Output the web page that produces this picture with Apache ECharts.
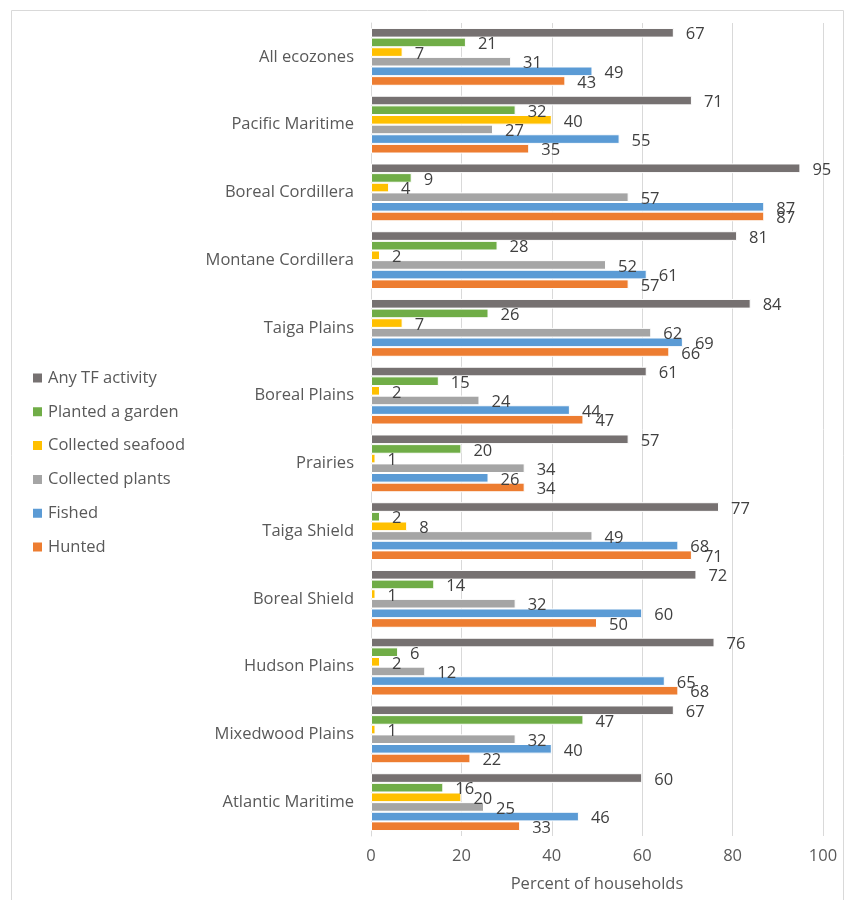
<!DOCTYPE html>
<html>
<head>
<meta charset="utf-8">
<script src="https://cdn.jsdelivr.net/npm/echarts@6/dist/echarts.min.js"></script>
<style>html,body{margin:0;padding:0;background:#fff;}#c{width:845px;height:900px;}</style>
</head>
<body>
<div id="c"></div>
<script>
const categories = ["All ecozones","Pacific Maritime","Boreal Cordillera","Montane Cordillera","Taiga Plains","Boreal Plains","Prairies","Taiga Shield","Boreal Shield","Hudson Plains","Mixedwood Plains","Atlantic Maritime"];
const seriesNames = ["Any TF activity","Planted a garden","Collected seafood","Collected plants","Fished","Hunted"];
const anyTF     = [67,71,95,81,84,61,57,77,72,76,67,60];
const garden    = [21,32,9,28,26,15,20,2,14,6,47,16];
const seafood   = [7,40,4,2,7,2,1,8,1,2,1,20];
const plants    = [31,27,57,52,62,24,34,49,32,12,32,25];
const fished    = [49,55,87,61,69,44,26,68,60,65,40,46];
const hunted    = [43,35,87,57,66,47,34,71,50,68,22,33];
const xTicks = [0,20,40,60,80,100];
const colors = ["#767171","#70AD47","#FFC000","#A5A5A5","#5B9BD5","#ED7D31"];

const FONT = "Open Sans";
const FS = 16.5;
const values = [anyTF, garden, seafood, plants, fished, hunted];
const chart = echarts.init(document.getElementById('c'));
chart.setOption({
  animation: false,
  textStyle: {fontFamily: FONT},
  graphic: [{type:'rect', shape:{x:11.5,y:10.5,width:832,height:900}, style:{fill:'none',stroke:'#d9d9d9',lineWidth:1}, silent:true}],
  legend: {
    orient: 'vertical', left: 31, top: 367, padding: 0,
    itemWidth: 11, itemHeight: 11, itemGap: 11.8,
    icon: 'rect',
    data: seriesNames,
    textStyle: {fontFamily: FONT, fontSize: FS, color: '#595959', lineHeight: 22}
  },
  grid: {left: 371, right: 22, top: 23, bottom: 64, containLabel: false},
  xAxis: {
    type: 'value', min: 0, max: 100, interval: 20,
    name: 'Percent of households', nameLocation: 'middle', nameGap: 40,
    nameTextStyle: {fontFamily: FONT, fontSize: FS, color: '#595959'},
    axisLabel: {fontFamily: FONT, fontSize: FS, color: '#595959', margin: 12, formatter: v => xTicks.includes(v) ? String(v) : ''},
    splitLine: {lineStyle: {color: '#d9d9d9'}},
    axisLine: {show: false}, axisTick: {show: false}
  },
  yAxis: {
    type: 'category', data: categories, inverse: true,
    axisLabel: {fontFamily: FONT, fontSize: FS, color: '#595959', margin: 17},
    axisLine: {lineStyle: {color: '#d9d9d9'}}, axisTick: {show: false}
  },
  series: seriesNames.map((n, i) => ({
    name: n, type: 'bar', data: values[i],
    barGap: '0%', barCategoryGap: '14.7%',
    itemStyle: {color: colors[i], borderColor: '#fff', borderWidth: 1},
    label: {show: true, position: 'right', distance: 12, offset:[0,2], fontFamily: FONT, fontSize: FS, color: '#404040'}
  }))
});
</script>
</body>
</html>
